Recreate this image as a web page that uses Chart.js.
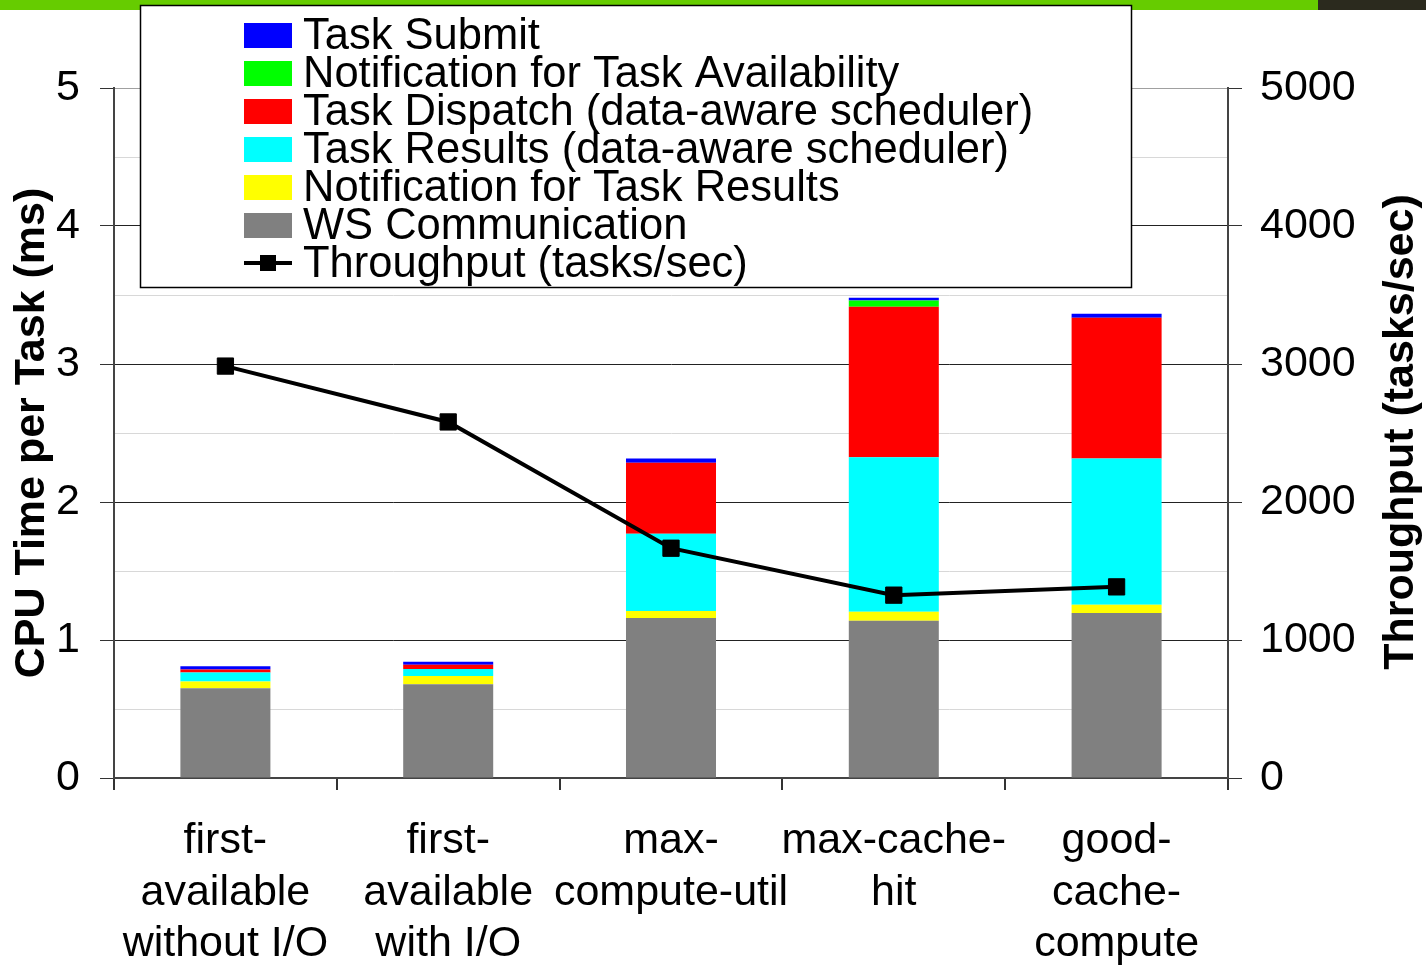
<!DOCTYPE html>
<html>
<head>
<meta charset="utf-8">
<script src="https://cdn.jsdelivr.net/npm/chart.js@4.4.1/dist/chart.umd.min.js"></script>
<style>
  html, body { margin: 0; padding: 0; background: #fff; }
  #wrap { width: 1426px; height: 966px; position: relative; }
</style>
</head>
<body>
<div id="wrap"><canvas id="chart"></canvas></div>
<script>
// scheduler policies on the x axis (one entry per line of the label)
const categories = [
  ["first-", "available", "without I/O"],
  ["first-", "available", "with I/O"],
  ["max-", "compute-util"],
  ["max-cache-", "hit"],
  ["good-", "cache-", "compute"],
];

// CPU time per task (ms), stacked bottom to top
const wsComm       = [0.65, 0.68, 1.16, 1.14, 1.195];
const notifResults = [0.05, 0.06, 0.05, 0.065, 0.06];
const taskResults  = [0.065, 0.05, 0.56, 1.12, 1.06];
const taskDispatch = [0.022, 0.03, 0.515, 1.09, 1.02];
const notifAvail   = [0, 0, 0, 0.045, 0];
const taskSubmit   = [0.022, 0.022, 0.03, 0.02, 0.03];

// throughput (tasks/sec), right axis
const throughput = [2985, 2580, 1665, 1325, 1385];

const cpuTicks = [0, 1, 2, 3, 4, 5];

const FONT = '"Liberation Sans", Arial, Helvetica, sans-serif';

function bar(label, data, color) {
  return {
    type: "bar",
    label: label,
    data: data,
    backgroundColor: color,
    borderWidth: 0,
    yAxisID: "y",
    order: 1,
    barPercentage: 0.404,
    categoryPercentage: 1,
  };
}

// page decoration + axis titles
const frame = {
  id: "frame",
  beforeDraw(chart) {
    const ctx = chart.ctx;
    ctx.save();
    ctx.fillStyle = "#fff";
    ctx.fillRect(0, 0, chart.width, chart.height);
    ctx.fillStyle = "#66cc00";
    ctx.fillRect(0, 0, 1318, 10);
    ctx.fillStyle = "#2b2a1e";
    ctx.fillRect(1318, 0, chart.width - 1318, 10);
    ctx.restore();
  },
  afterDraw(chart) {
    const ctx = chart.ctx;
    ctx.save();
    ctx.fillStyle = "#000";
    ctx.font = "bold 43px " + FONT;
    ctx.textAlign = "center";
    ctx.textBaseline = "middle";
    ctx.translate(32, 433);
    ctx.rotate(-Math.PI / 2);
    ctx.fillText("CPU Time per Task (ms)", 0, 0);
    ctx.restore();

    ctx.save();
    ctx.fillStyle = "#000";
    ctx.font = "bold 43px " + FONT;
    ctx.textAlign = "center";
    ctx.textBaseline = "middle";
    ctx.translate(1401, 432);
    ctx.rotate(-Math.PI / 2);
    ctx.fillText("Throughput (tasks/sec)", 0, 0);
    ctx.restore();
  },
};

// boxed legend sitting over the top of the plot
const boxLegend = {
  id: "boxLegend",
  afterDraw(chart) {
    const ctx = chart.ctx;
    const sets = chart.data.datasets;
    const bars = sets.filter(d => d.type === "bar").reverse();
    const lines = sets.filter(d => d.type === "line");
    const items = bars.concat(lines);

    ctx.save();
    ctx.fillStyle = "#fff";
    ctx.fillRect(140, 5, 991, 282);
    ctx.strokeStyle = "#000";
    ctx.lineWidth = 1.5;
    ctx.strokeRect(140.5, 5.5, 991, 282);

    ctx.font = "43.5px " + FONT;
    ctx.textBaseline = "middle";
    ctx.textAlign = "left";
    items.forEach((d, i) => {
      const cy = 35 + i * 38;
      if (d.type === "bar") {
        ctx.fillStyle = d.backgroundColor;
        ctx.fillRect(244, cy - 12, 48, 25);
      } else {
        ctx.strokeStyle = d.borderColor;
        ctx.lineWidth = 4;
        ctx.beginPath();
        ctx.moveTo(244, cy);
        ctx.lineTo(292, cy);
        ctx.stroke();
        ctx.fillStyle = d.pointBackgroundColor;
        ctx.fillRect(260, cy - 8, 16, 16);
      }
      ctx.fillStyle = "#000";
      ctx.fillText(d.label, 303, cy + 2);
    });
    ctx.restore();
  },
};

new Chart(document.getElementById("chart"), {
  data: {
    labels: categories,
    datasets: [
      bar("WS Communication", wsComm, "#808080"),
      bar("Notification for Task Results", notifResults, "#ffff00"),
      bar("Task Results (data-aware scheduler)", taskResults, "#00ffff"),
      bar("Task Dispatch (data-aware scheduler)", taskDispatch, "#ff0000"),
      bar("Notification for Task Availability", notifAvail, "#00ff00"),
      bar("Task Submit", taskSubmit, "#0000ff"),
      {
        type: "line",
        label: "Throughput (tasks/sec)",
        data: throughput,
        yAxisID: "y1",
        order: 0,
        borderColor: "#000",
        borderWidth: 4,
        tension: 0,
        pointStyle: "rect",
        pointRadius: 11.5,
        pointBackgroundColor: "#000",
        pointBorderColor: "#000",
        pointBorderWidth: 1,
      },
    ],
  },
  options: {
    responsive: true,
    maintainAspectRatio: false,
    animation: false,
    layout: { padding: { top: 88, left: 0, right: 0, bottom: 0 } },
    plugins: {
      legend: { display: false },
      tooltip: { enabled: false },
    },
    scales: {
      x: {
        stacked: true,
        afterFit: s => { s.height = 188; },
        grid: {
          offset: true,
          drawOnChartArea: false,
          tickLength: 12,
          color: "#333",
          lineWidth: 2,
        },
        border: { color: "#444", width: 2 },
        ticks: {
          padding: 26,
          maxRotation: 0,
          autoSkip: false,
          color: "#000",
          font: { family: FONT, size: 43, lineHeight: 1.19 },
        },
      },
      y: {
        stacked: true,
        position: "left",
        min: 0,
        max: 5,
        afterFit: s => { s.width = 114; },
        ticks: {
          stepSize: 0.5,
          padding: 20,
          color: "#000",
          font: { family: FONT, size: 43 },
          callback: v => (cpuTicks.includes(v) ? String(v) : ""),
        },
        grid: {
          tickLength: 14,
          lineWidth: 1,
          color: c => {
            const v = c.tick.value;
            if (v === 5) return "#a0a0a0";
            return cpuTicks.includes(v) ? "#222" : "#d8d8d8";
          },
          tickColor: c => (cpuTicks.includes(c.tick.value) ? "#333" : "rgba(0,0,0,0)"),
        },
        border: { color: "#444", width: 2 },
      },
      y1: {
        position: "right",
        min: 0,
        max: 5000,
        afterFit: s => { s.width = 198; },
        ticks: {
          stepSize: 1000,
          padding: 18,
          color: "#000",
          font: { family: FONT, size: 43 },
          callback: v => String(v),
        },
        grid: {
          drawOnChartArea: false,
          tickLength: 14,
          color: "#333",
        },
        border: { color: "#444", width: 2 },
      },
    },
  },
  plugins: [frame, boxLegend],
});
</script>
</body>
</html>
